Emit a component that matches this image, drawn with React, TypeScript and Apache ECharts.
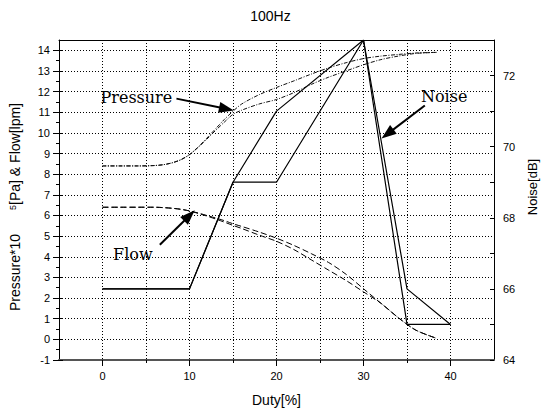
import React, { useEffect, useRef } from "react";
import * as echarts from "echarts";

const duty = [0, 2, 4, 6, 7, 8, 9, 10, 11, 12, 13, 14, 15, 16, 18, 20, 22, 24, 26, 28, 30, 32, 34, 36, 38.4];
const pressureA = [8.4, 8.4, 8.4, 8.42, 8.46, 8.55, 8.7, 8.95, 9.32, 9.75, 10.2, 10.65, 11.05, 11.4, 11.85, 12.2, 12.52, 12.85, 13.15, 13.4, 13.6, 13.72, 13.8, 13.87, 13.9];
const pressureB = [8.4, 8.4, 8.4, 8.42, 8.46, 8.55, 8.7, 8.95, 9.3, 9.7, 10.12, 10.52, 10.9, 11.1, 11.4, 11.62, 11.95, 12.35, 12.7, 13.0, 13.3, 13.55, 13.72, 13.85, 13.9];
const flowA = [6.4, 6.4, 6.4, 6.4, 6.38, 6.35, 6.3, 6.22, 6.12, 6.0, 5.88, 5.75, 5.6, 5.47, 5.2, 4.9, 4.55, 4.15, 3.72, 3.15, 2.45, 1.75, 1.05, 0.45, 0.05];
const flowB = [6.4, 6.4, 6.4, 6.4, 6.38, 6.35, 6.3, 6.22, 6.1, 5.97, 5.83, 5.68, 5.52, 5.37, 5.05, 4.75, 4.35, 3.85, 3.35, 2.85, 2.3, 1.75, 1.05, 0.45, 0.05];

const noiseDuty = [0, 10, 15, 20, 30, 35, 40];
const noiseA = [66, 66, 69, 71, 73, 65, 65];
const noiseB = [66, 66, 69, 69, 73, 66, 65];

const xTicks = [0, 10, 20, 30, 40];
const xMinorTicks = [5, 15, 25, 35];
const leftTicks = [-1, 0, 1, 2, 3, 4, 5, 6, 7, 8, 9, 10, 11, 12, 13, 14];
const leftMinorTicks = [-0.5, 0.5, 1.5, 2.5, 3.5, 4.5, 5.5, 6.5, 7.5, 8.5, 9.5, 10.5, 11.5, 12.5, 13.5];
const rightTicks = [64, 66, 68, 70, 72];
const rightAllTicks = [64, 65, 66, 67, 68, 69, 70, 71, 72, 73];

const annotations = [
  { label: "Pressure", text: [-0.23, 11.7], tail: [8.5, 11.66], tip: [15.1, 11.09] },
  { label: "Noise", text: [36.6, 11.78], tail: [37.05, 11.33], tip: [32.07, 9.73] },
  { label: "Flow", text: [1.22, 4.1], tail: [6.59, 4.58], tip: [10.6, 6.25] },
];

const zip = (xs: number[], ys: number[]) => xs.map((x, i) => [x, ys[i]]);

const SANS = "'Liberation Sans', Arial, sans-serif";

export default function App() {
  const ref = useRef<HTMLDivElement>(null);
  useEffect(() => {
    if (!ref.current) return;
    const chart = echarts.init(ref.current, undefined, { renderer: "svg" });
    const labelStyle = { color: "#000", fontSize: 11, fontFamily: SANS };
    const nameStyle = { color: "#000", fontSize: 14, fontFamily: SANS };
    const hidden = { show: false };
    const dotted = { show: true, lineStyle: { color: "#000", width: 1, type: [1, 2] as any } };
    chart.setOption({
      animation: false,
      backgroundColor: "#fff",
      title: {
        text: "100Hz",
        left: "center",
        top: 9,
        padding: 0,
        textStyle: { color: "#000", fontSize: 14, fontWeight: "normal", fontFamily: SANS },
      },
      grid: { left: 59, right: 47, top: 40, bottom: 56, containLabel: false, outerBoundsMode: "none" },
      xAxis: [
        {
          type: "value",
          min: -5,
          max: 45,
          interval: 5,
          position: "bottom",
          axisLine: { show: true, onZero: false, lineStyle: { color: "#555", width: 2 } },
          axisTick: { show: true, customValues: xTicks, length: 6, lineStyle: { color: "#000" } },
          axisLabel: { ...labelStyle, customValues: xTicks, margin: 10 },
          splitLine: hidden,
          name: "Duty[%]",
          nameLocation: "middle",
          nameGap: 33,
          nameTextStyle: nameStyle,
        },
        {
          type: "value",
          min: -5,
          max: 45,
          position: "bottom",
          axisLine: { show: false, onZero: false },
          axisTick: { show: true, customValues: xMinorTicks, length: 3, lineStyle: { color: "#000" } },
          axisLabel: hidden,
          splitLine: hidden,
        },
        {
          type: "value",
          min: -5,
          max: 45,
          interval: 5,
          position: "top",
          axisLine: { show: true, onZero: false, lineStyle: { color: "#000", width: 1 } },
          axisTick: hidden,
          axisLabel: hidden,
          splitLine: dotted,
        },
      ],
      yAxis: [
        {
          type: "value",
          min: -1,
          max: 14.5,
          interval: 1,
          position: "left",
          axisLine: { show: true, onZero: false, lineStyle: { color: "#000", width: 1 } },
          axisTick: { show: true, customValues: leftTicks, length: 6, lineStyle: { color: "#000" } },
          axisLabel: { ...labelStyle, customValues: leftTicks, margin: 9 },
          splitLine: dotted,
          name: "Pressure*10{gap| }{sup|5}[Pa] & Flow[lpm]",
          nameLocation: "middle",
          nameGap: 37,
          nameRotate: 90,
          nameTextStyle: {
            ...nameStyle,
            padding: [0, 14, 0, 0],
            rich: {
              gap: { width: 24, fontSize: 14 },
              sup: { fontSize: 9, verticalAlign: "top", fontFamily: SANS, color: "#000" },
            },
          },
        },
        {
          type: "value",
          min: 64,
          max: 73,
          position: "right",
          axisLine: { show: true, onZero: false, lineStyle: { color: "#000", width: 1 } },
          axisTick: { show: true, inside: true, customValues: rightAllTicks, length: 4, lineStyle: { color: "#000" } },
          axisLabel: { ...labelStyle, customValues: rightTicks, margin: 9 },
          splitLine: hidden,
          name: "Noise[dB]",
          nameLocation: "middle",
          nameGap: 31,
          nameRotate: 90,
          nameTextStyle: { ...nameStyle, fontSize: 13, padding: [0, 0, 0, 26] },
        },
        {
          type: "value",
          min: -1,
          max: 14.5,
          position: "left",
          axisLine: { show: false, onZero: false },
          axisTick: { show: true, inside: true, customValues: leftTicks, length: 4, lineStyle: { color: "#000" } },
          axisLabel: hidden,
          splitLine: hidden,
        },
        {
          type: "value",
          min: -1,
          max: 14.5,
          position: "left",
          axisLine: { show: false, onZero: false },
          axisTick: { show: true, customValues: leftMinorTicks, length: 3, lineStyle: { color: "#000" } },
          axisLabel: hidden,
          splitLine: hidden,
        },
      ],
      series: [
        {
          type: "line",
          name: "Pressure A",
          data: zip(duty, pressureA),
          smooth: 0.3,
          symbol: "none",
          lineStyle: { color: "#111", width: 1, type: [4, 1.5, 1, 1.5] },
        },
        {
          type: "line",
          name: "Pressure B",
          data: zip(duty, pressureB),
          smooth: 0.3,
          symbol: "none",
          lineStyle: { color: "#111", width: 1, type: [4, 1.5, 1, 1.5] },
        },
        {
          type: "line",
          name: "Flow A",
          data: zip(duty, flowA),
          smooth: 0.3,
          symbol: "none",
          lineStyle: { color: "#000", width: 1, type: [6, 3] },
        },
        {
          type: "line",
          name: "Flow B",
          data: zip(duty, flowB),
          smooth: 0.3,
          symbol: "none",
          lineStyle: { color: "#000", width: 1, type: [6, 3] },
        },
        {
          type: "line",
          name: "Noise A",
          yAxisIndex: 1,
          data: zip(noiseDuty, noiseA),
          symbol: "none",
          lineStyle: { color: "#000", width: 1.2 },
        },
        {
          type: "line",
          name: "Noise B",
          yAxisIndex: 1,
          data: zip(noiseDuty, noiseB),
          symbol: "none",
          lineStyle: { color: "#000", width: 1.2 },
        },
      ],
    });

    const toPx = (p: number[]) => chart.convertToPixel({ xAxisIndex: 0, yAxisIndex: 0 }, p) as number[];
    const elements: any[] = [];
    annotations.forEach((a) => {
      const t = toPx(a.text);
      const tail = toPx(a.tail);
      const tip = toPx(a.tip);
      const dx = tip[0] - tail[0];
      const dy = tip[1] - tail[1];
      const len = Math.hypot(dx, dy);
      const ux = dx / len;
      const uy = dy / len;
      const nx = -uy;
      const ny = ux;
      const L = 15;
      const W = 5.5;
      const bx = tip[0] - L * ux;
      const by = tip[1] - L * uy;
      elements.push({
        type: "text",
        x: t[0],
        y: t[1],
        style: {
          text: a.label,
          fill: "#000",
          font: "16px 'DejaVu Serif', serif",
          textAlign: "left",
          textVerticalAlign: "middle",
        },
        z: 100,
      });
      elements.push({
        type: "line",
        shape: { x1: tail[0], y1: tail[1], x2: bx + 2 * ux, y2: by + 2 * uy },
        style: { stroke: "#000", lineWidth: 2 },
        z: 100,
      });
      elements.push({
        type: "polygon",
        shape: {
          points: [
            [tip[0], tip[1]],
            [bx + W * nx, by + W * ny],
            [bx - W * nx, by - W * ny],
          ],
        },
        style: { fill: "#000" },
        z: 100,
      });
    });
    chart.setOption({ graphic: { elements } });

    return () => chart.dispose();
  }, []);
  return (
    <div
      ref={ref}
      style={{ position: "fixed", left: 0, top: 0, width: 541, height: 416 }}
    />
  );
}
